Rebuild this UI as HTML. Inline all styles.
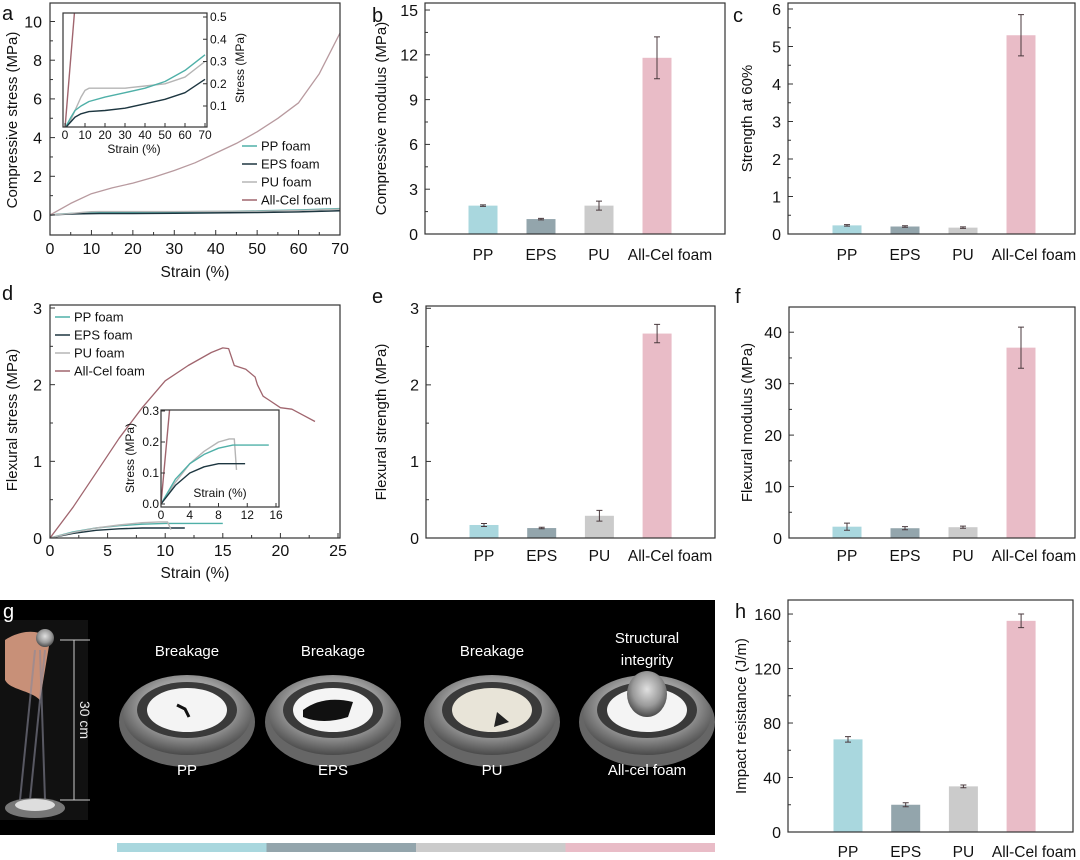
<!DOCTYPE html>
<html><head><meta charset="utf-8">
<style>
html,body{margin:0;padding:0;background:#fff;}
svg{display:block;font-family:"Liberation Sans",sans-serif;}
</style></head>
<body>
<svg id="fig" width="1080" height="860" viewBox="0 0 1080 860" xmlns="http://www.w3.org/2000/svg">
<defs>
<clipPath id="clipA"><rect x="50" y="3" width="290" height="232"/></clipPath>
<clipPath id="clipAi"><rect x="63" y="13" width="144" height="114"/></clipPath>
<clipPath id="clipD"><rect x="50" y="305" width="290" height="233"/></clipPath>
<clipPath id="clipDi"><rect x="161" y="410" width="118" height="97"/></clipPath>
<radialGradient id="metal" cx="50%" cy="40%" r="60%"><stop offset="0" stop-color="#e0e0e0"/><stop offset="0.6" stop-color="#9a9a9a"/><stop offset="1" stop-color="#4a4a4a"/></radialGradient>
</defs>

<g>
<rect x="0" y="600" width="715" height="235" fill="#000"/>
<rect x="0" y="620" width="88" height="200" fill="#111"/>
<path d="M5,640 C20,630 40,628 50,640 L40,700 C30,690 10,690 5,680Z" fill="#c89078"/>
<circle cx="45" cy="638" r="9" fill="url(#metal)"/>
<path d="M35,650 L20,800 M45,650 L30,800 M40,650 L45,800" stroke="#889" stroke-width="2" opacity="0.6" fill="none"/>
<ellipse cx="35" cy="808" rx="30" ry="10" fill="#777"/>
<ellipse cx="35" cy="805" rx="20" ry="6" fill="#ddd"/>
<line x1="74" y1="640" x2="74" y2="800" stroke="#ccc" stroke-width="1"/>
<line x1="60" y1="640" x2="90" y2="640" stroke="#ccc" stroke-width="1"/>
<line x1="60" y1="800" x2="90" y2="800" stroke="#ccc" stroke-width="1"/>
<text x="80" y="720" fill="#eee" font-size="14" transform="rotate(90 80 720)" text-anchor="middle">30 cm</text>
<text x="3" y="618" fill="#fff" font-size="20">g</text>
</g>
<g id="clamps"></g>

<g id="charts"></g>
</svg>

<script>
const categories = ["PP","EPS","PU","All-Cel foam"];
const compModulus = [1.9, 1.0, 1.9, 11.8];
const compModulusErr = [0.05, 0.05, 0.3, 1.4];
const strength60 = [0.23, 0.2, 0.17, 5.3];
const strength60Err = [0.02, 0.02, 0.02, 0.55];
const flexStrength = [0.17, 0.13, 0.29, 2.67];
const flexStrengthErr = [0.02, 0.01, 0.07, 0.12];
const flexModulus = [2.2, 1.9, 2.1, 37];
const flexModulusErr = [0.7, 0.3, 0.2, 4];
const impact = [68, 20, 33.5, 155];
const impactErr = [2, 1.5, 1, 5];

const compStrain = [0,5,10,15,20,25,30,35,40,45,50,55,60,65,70];
const compAllCel = [0,0.6,1.1,1.4,1.65,1.95,2.3,2.7,3.2,3.7,4.3,5.0,5.8,7.3,9.4];
const insetStrain = [0,3,5,8,10,12,20,30,40,50,60,70];
const insetPP  = [0,0.05,0.08,0.10,0.11,0.12,0.14,0.16,0.18,0.21,0.26,0.33];
const insetEPS = [0,0.03,0.05,0.065,0.07,0.075,0.08,0.09,0.11,0.13,0.16,0.22];
const insetPU  = [0,0.04,0.08,0.14,0.17,0.18,0.18,0.18,0.19,0.2,0.23,0.30];
const insetAllCelX = [0,5];
const insetAllCelY = [0,0.55];

const flexAllCelX = [0,2,4,6,8,10,12,14,15,15.5,16,17,17.8,18,18.5,19,20,21,22,23];
const flexAllCelY = [0,0.4,0.85,1.3,1.7,2.05,2.25,2.42,2.48,2.47,2.25,2.2,2.1,2.0,1.85,1.8,1.7,1.68,1.6,1.52];
const flexPPX = [0,2,4,6,8,10,12,15];
const flexPPY = [0,0.08,0.13,0.16,0.18,0.19,0.19,0.19];
const flexEPSX = [0,2,4,6,8,10,11.7];
const flexEPSY = [0,0.06,0.1,0.12,0.13,0.13,0.13];
const flexPUX = [0,2,4,6,8,9.5,10.2,10.5];
const flexPUY = [0,0.07,0.13,0.17,0.2,0.21,0.21,0.11];
const flexInsetAllCelX = [0,1.3];
const flexInsetAllCelY = [0,0.33];

const NS = "http://www.w3.org/2000/svg";
const root = document.getElementById('charts');
const barColors = ["#a9d7de","#93a5ac","#cbcbcb","#e9bcc7"];
const lineColors = {PP:"#4fb0a8",EPS:"#1d3640",PU:"#b5b5b5",AC:"#a0656e"};
const TICK = 16;
function el(tag, attrs, parent){
  const e = document.createElementNS(NS, tag);
  for (const k in attrs) e.setAttribute(k, attrs[k]);
  (parent||root).appendChild(e);
  return e;
}
function txt(x,y,s,size,anchor,parent,extra){
  const t = el('text',Object.assign({x:x,y:y,'font-size':size,'text-anchor':anchor||'middle',fill:'#111'},extra||{}),parent);
  t.textContent = s;
  return t;
}
function scale(d0,d1,p0,p1){return v => p0 + (v-d0)/(d1-d0)*(p1-p0);}

function axesBox(g, L,T,R,B){
  const r = el('rect',{x:L,y:T,width:R-L,height:B-T,fill:'none',stroke:'#333','stroke-width':1.2},g);
  
  
}
function yAxis(g, ys, ticks, minors, L, size, labelX, anchor, inward){
  ticks.forEach(v=>{
    const y = ys(v);
    const tk = el('line',{x1:L,x2:L+(inward||5),y1:y,y2:y,stroke:'#333'},g);
    
    
    const t = txt(labelX,y+size*0.36,String(v),size,anchor||'end',g);
    
    
  });
  minors.forEach(v=>{
    const y = ys(v);
    const tk = el('line',{x1:L,x2:L+(inward>0?3:-3),y1:y,y2:y,stroke:'#333'},g);
    
    
  });
}
function xAxis(g, xs, ticks, minors, B, size, labelY){
  ticks.forEach(v=>{
    const x = xs(v);
    const tk = el('line',{x1:x,x2:x,y1:B,y2:B-5,stroke:'#333'},g);
    
    
    const t = txt(x,labelY,String(v),size,'middle',g);
    
    
  });
  minors.forEach(v=>{
    const x = xs(v);
    const tk = el('line',{x1:x,x2:x,y1:B,y2:B-3,stroke:'#333'},g);
    
    
  });
}
function range(a,b,s){const r=[];for(let v=a;v<=b+1e-9;v+=s)r.push(Math.round(v*100)/100);return r;}
function polyline(g, xs, ys, X, Y, color, w, clip, name){
  const pts = X.map((x,i)=>xs(x).toFixed(1)+','+ys(Y[i]).toFixed(1)).join(' ');
  const p = el('polyline',{points:pts,fill:'none',stroke:color,'stroke-width':w||1.3,'clip-path':'url(#'+clip+')','stroke-linejoin':'round'},g);
  
  
}
function vTitle(g,x,y,s,size,name){
  const t = txt(x,y,s,size,'middle',g,{transform:'rotate(-90 '+x+' '+y+')'});
  
  
}

function barChart(o){
  const g = el('g',{});
  
  
  const ys = scale(0,o.ymax,o.B,o.T);
  const n = categories.length;
  categories.forEach((c,i)=>{
    const cx = o.c0 + i*o.step;
    const y = ys(o.values[i]);
    const r = el('rect',{x:cx-14.5,y:y,width:29,height:o.B-y,fill:barColors[i]},g);
    
    
    const e = o.errs[i];
    const y1 = ys(o.values[i]+e), y2 = ys(Math.max(0,o.values[i]-e));
    const eb = el('path',{d:`M${cx},${y1}V${y2}M${cx-3},${y1}H${cx+3}M${cx-3},${y2}H${cx+3}`,stroke:'#4a3a3e','stroke-width':1,fill:'none'},g);
    
    
    const lx = cx + (i===n-1?13:0);
    const t = txt(lx,o.labelY,c,15.5,'middle',g);
    
    
  });
  axesBox(g,o.L,o.T,o.R,o.B);
  yAxis(g, ys, o.ticks, o.minors, o.L, TICK, o.L-7, 'end', 5);
  vTitle(g,o.titleX,(o.T+o.B)/2,o.title,15,'y-axis-title');
  const lt = txt(o.letterX,o.letterY,o.letter,20,'start',g);
  
  
}

(function(){
  const g = el('g',{});
  
  
  const L=50,R=340,T=3,B=235;
  const xs = scale(0,70,50,340), ys = scale(0,10,215,21.5);
  polyline(g,xs,ys,insetStrain,insetPP,lineColors.PP,1.5,'clipA','line-pp');
  polyline(g,xs,ys,insetStrain,insetEPS,lineColors.EPS,1.5,'clipA','line-eps');
  polyline(g,xs,ys,insetStrain,insetPU,lineColors.PU,1.3,'clipA','line-pu');
  polyline(g,xs,ys,compStrain,compAllCel,"#b89a9f",1.3,'clipA','line-all-cel');
  axesBox(g,L,T,R,B);
  yAxis(g,ys,range(0,10,2),range(1,9,2),L,TICK,L-8,'end',5);
  xAxis(g,xs,range(0,70,10),range(5,65,10),B,TICK,254);
  vTitle(g,17,120,'Compressive stress (MPa)',15,'y-axis-title');
  const xt = txt(195,277,'Strain (%)',15.5,'middle',g);
   
  const lt = txt(2,20,'a',20,'start',g);
   
  const leg = [['PP foam',lineColors.PP],['EPS foam',lineColors.EPS],['PU foam',lineColors.PU],['All-Cel foam',lineColors.AC]];
  leg.forEach((d,i)=>{
    const y = 146 + i*18;
    const l = el('line',{x1:242,x2:257,y1:y,y2:y,stroke:d[1],'stroke-width':1.5},g);
     
    const t = txt(261,y+4.5,d[0],13,'start',g);
     
  });
  const gi = el('g',{},g);
  
  
  const iL=63,iR=207,iT=13,iB=127;
  el('rect',{x:iL,y:iT,width:iR-iL,height:iB-iT,fill:'#fff'},gi);
  const ixs = scale(0,70,65,205), iys = scale(0,0.5,128.25,17);
  polyline(gi,ixs,iys,insetStrain,insetPU,lineColors.PU,1.4,'clipAi','inset-line-pu');
  polyline(gi,ixs,iys,insetStrain,insetPP,lineColors.PP,1.4,'clipAi','inset-line-pp');
  polyline(gi,ixs,iys,insetStrain,insetEPS,lineColors.EPS,1.4,'clipAi','inset-line-eps');
  polyline(gi,ixs,iys,insetAllCelX,insetAllCelY,lineColors.AC,1.4,'clipAi','inset-line-all-cel');
  axesBox(gi,iL,iT,iR,iB);
  [0.1,0.2,0.3,0.4,0.5].forEach(v=>{
    const y = iys(v);
    const tk = el('line',{x1:iR,x2:iR-4,y1:y,y2:y,stroke:'#333'},gi);
     
    const t = txt(iR+3,y+4,v.toFixed(1),12,'start',gi);
     
  });
  range(0,70,10).forEach(v=>{
    const x = ixs(v);
    const tk = el('line',{x1:x,x2:x,y1:iB,y2:iB-4,stroke:'#333'},gi);
     
    const t = txt(x,iB+12,String(v),12,'middle',gi);
     
  });
  const ixt = txt(134,153,'Strain (%)',12,'middle',gi);
   
  const iyt = txt(244,68,'Stress (MPa)',12,'middle',gi,{transform:'rotate(-90 244 68)'});
   
})();

(function(){
  const g = el('g',{});
  
  
  const L=50,R=340,T=305,B=538;
  const xs = scale(0,25,50,338), ys = scale(0,3,538,308);
  polyline(g,xs,ys,flexPPX,flexPPY,lineColors.PP,1.4,'clipD','line-pp');
  polyline(g,xs,ys,flexEPSX,flexEPSY,lineColors.EPS,1.4,'clipD','line-eps');
  polyline(g,xs,ys,flexPUX,flexPUY,lineColors.PU,1.4,'clipD','line-pu');
  polyline(g,xs,ys,flexAllCelX,flexAllCelY,lineColors.AC,1.3,'clipD','line-all-cel');
  axesBox(g,L,T,R,B);
  yAxis(g,ys,[0,1,2,3],[0.5,1.5,2.5],L,TICK,L-8,'end',5);
  xAxis(g,xs,range(0,25,5),range(2.5,22.5,5),B,TICK,556);
  vTitle(g,17,420,'Flexural stress (MPa)',15,'y-axis-title');
  const xt = txt(195,578,'Strain (%)',15.5,'middle',g);
   
  const lt = txt(2,300,'d',20,'start',g);
   
  const leg = [['PP foam',lineColors.PP],['EPS foam',lineColors.EPS],['PU foam',lineColors.PU],['All-Cel foam',lineColors.AC]];
  leg.forEach((d,i)=>{
    const y = 317 + i*18;
    const l = el('line',{x1:55,x2:70,y1:y,y2:y,stroke:d[1],'stroke-width':1.5},g);
     
    const t = txt(74,y+4.5,d[0],13,'start',g);
     
  });
  const gi = el('g',{},g);
  
  
  const iL=161,iR=279,iT=410,iB=507;
  el('rect',{x:iL,y:iT,width:iR-iL,height:iB-iT,fill:'#fff'},gi);
  const ixs = scale(0,16,161,276), iys = scale(0,0.3,504,411);
  polyline(gi,ixs,iys,flexPUX,flexPUY,lineColors.PU,1.4,'clipDi','inset-line-pu');
  polyline(gi,ixs,iys,flexPPX,flexPPY,lineColors.PP,1.4,'clipDi','inset-line-pp');
  polyline(gi,ixs,iys,flexEPSX,flexEPSY,lineColors.EPS,1.4,'clipDi','inset-line-eps');
  polyline(gi,ixs,iys,flexInsetAllCelX,flexInsetAllCelY,lineColors.AC,1.4,'clipDi','inset-line-all-cel');
  axesBox(gi,iL,iT,iR,iB);
  [0,0.1,0.2,0.3].forEach(v=>{
    const y = iys(v);
    const tk = el('line',{x1:iL,x2:iL+4,y1:y,y2:y,stroke:'#333'},gi);
     
    const t = txt(iL-2,y+4,v.toFixed(1),12,'end',gi);
     
  });
  [0,4,8,12,16].forEach(v=>{
    const x = ixs(v);
    const tk = el('line',{x1:x,x2:x,y1:iB,y2:iB-4,stroke:'#333'},gi);
     
    const t = txt(x,iB+12,String(v),12,'middle',gi);
     
  });
  const ixt = txt(220,497,'Strain (%)',12,'middle',gi);
   
  const iyt = txt(134,458,'Stress (MPa)',12,'middle',gi,{transform:'rotate(-90 134 458)'});
   
})();

barChart({name:'panel-b-compressive-modulus',values:compModulus,errs:compModulusErr,L:425,R:725,T:3,B:234,ymax:15.47,
  ticks:range(0,15,3),minors:range(1.5,13.5,3),c0:483,step:58,labelY:260,title:'Compressive modulus (MPa)',titleX:386,letter:'b',letterX:372,letterY:22});
barChart({name:'panel-c-strength-60',values:strength60,errs:strength60Err,L:788,R:1075,T:3,B:234,ymax:6.16,
  ticks:range(0,6,1),minors:range(0.5,5.5,1),c0:847,step:58,labelY:260,title:'Strength at 60%',titleX:752,letter:'c',letterX:733,letterY:22});
barChart({name:'panel-e-flexural-strength',values:flexStrength,errs:flexStrengthErr,L:426,R:715,T:306,B:538,ymax:3.03,
  ticks:[0,1,2,3],minors:[0.5,1.5,2.5],c0:484,step:57.7,labelY:561,title:'Flexural strength (MPa)',titleX:386,letter:'e',letterX:372,letterY:303});
barChart({name:'panel-f-flexural-modulus',values:flexModulus,errs:flexModulusErr,L:789,R:1075,T:307,B:538,ymax:44.9,
  ticks:range(0,40,10),minors:range(5,35,10),c0:847,step:58,labelY:561,title:'Flexural modulus (MPa)',titleX:752,letter:'f',letterX:735,letterY:303});
barChart({name:'panel-h-impact-resistance',values:impact,errs:impactErr,L:788,R:1073,T:600,B:832,ymax:170.3,
  ticks:range(0,160,40),minors:range(20,140,40),c0:848,step:57.7,labelY:857,title:'Impact resistance (J/m)',titleX:746,letter:'h',letterX:735,letterY:618});

const photoLabels = ["PP","EPS","PU","All-cel foam"];
const photoTop = ["Breakage","Breakage","Breakage","Structural|integrity"];
const clampG = document.getElementById('clamps');
const centers = [187,333,492,647];
photoLabels.forEach((lab,i)=>{
  const cx = centers[i];
  const c = el('g',{},clampG);
  
  
  el('ellipse',{cx:cx,cy:722,rx:68,ry:45,fill:'#666'},c);
  el('ellipse',{cx:cx,cy:715,rx:64,ry:40,fill:'url(#metal)'},c);
  el('ellipse',{cx:cx,cy:710,rx:50,ry:28,fill:'#3a3a3a'},c);
  el('ellipse',{cx:cx,cy:710,rx:40,ry:22,fill:i===2?'#e8e4d8':'#f4f4f4'},c);
  if(i===0) el('path',{d:`M${cx-10},${705} l8,4 l4,8`,stroke:'#111','stroke-width':3,fill:'none'},c);
  if(i===1) el('path',{d:`M${cx-30},${710} q20,-15 50,-8 l-5,15 q-25,8 -45,0z`,fill:'#111'},c);
  if(i===2) el('path',{d:`M${cx+5},${712} l12,10 l-15,5z`,fill:'#222'},c);
  if(i===3){ el('ellipse',{cx:cx,cy:694,rx:20,ry:23,fill:'url(#metal)'},c); }
  const parts = photoTop[i].split('|');
  parts.forEach((p,k)=>{
    const t = txt(cx, parts.length>1 ? 643+k*22 : 656, p, 15,'middle',c,{fill:'#fff'});
    
    
  });
  const t2 = txt(cx,775,lab,15,'middle',c,{fill:'#fff'});
  
  
  const s = el('rect',{x:117+i*149.5,y:843,width:149.5,height:9,fill:barColors[i]},clampG);
  
  
});
</script>
</body></html>
